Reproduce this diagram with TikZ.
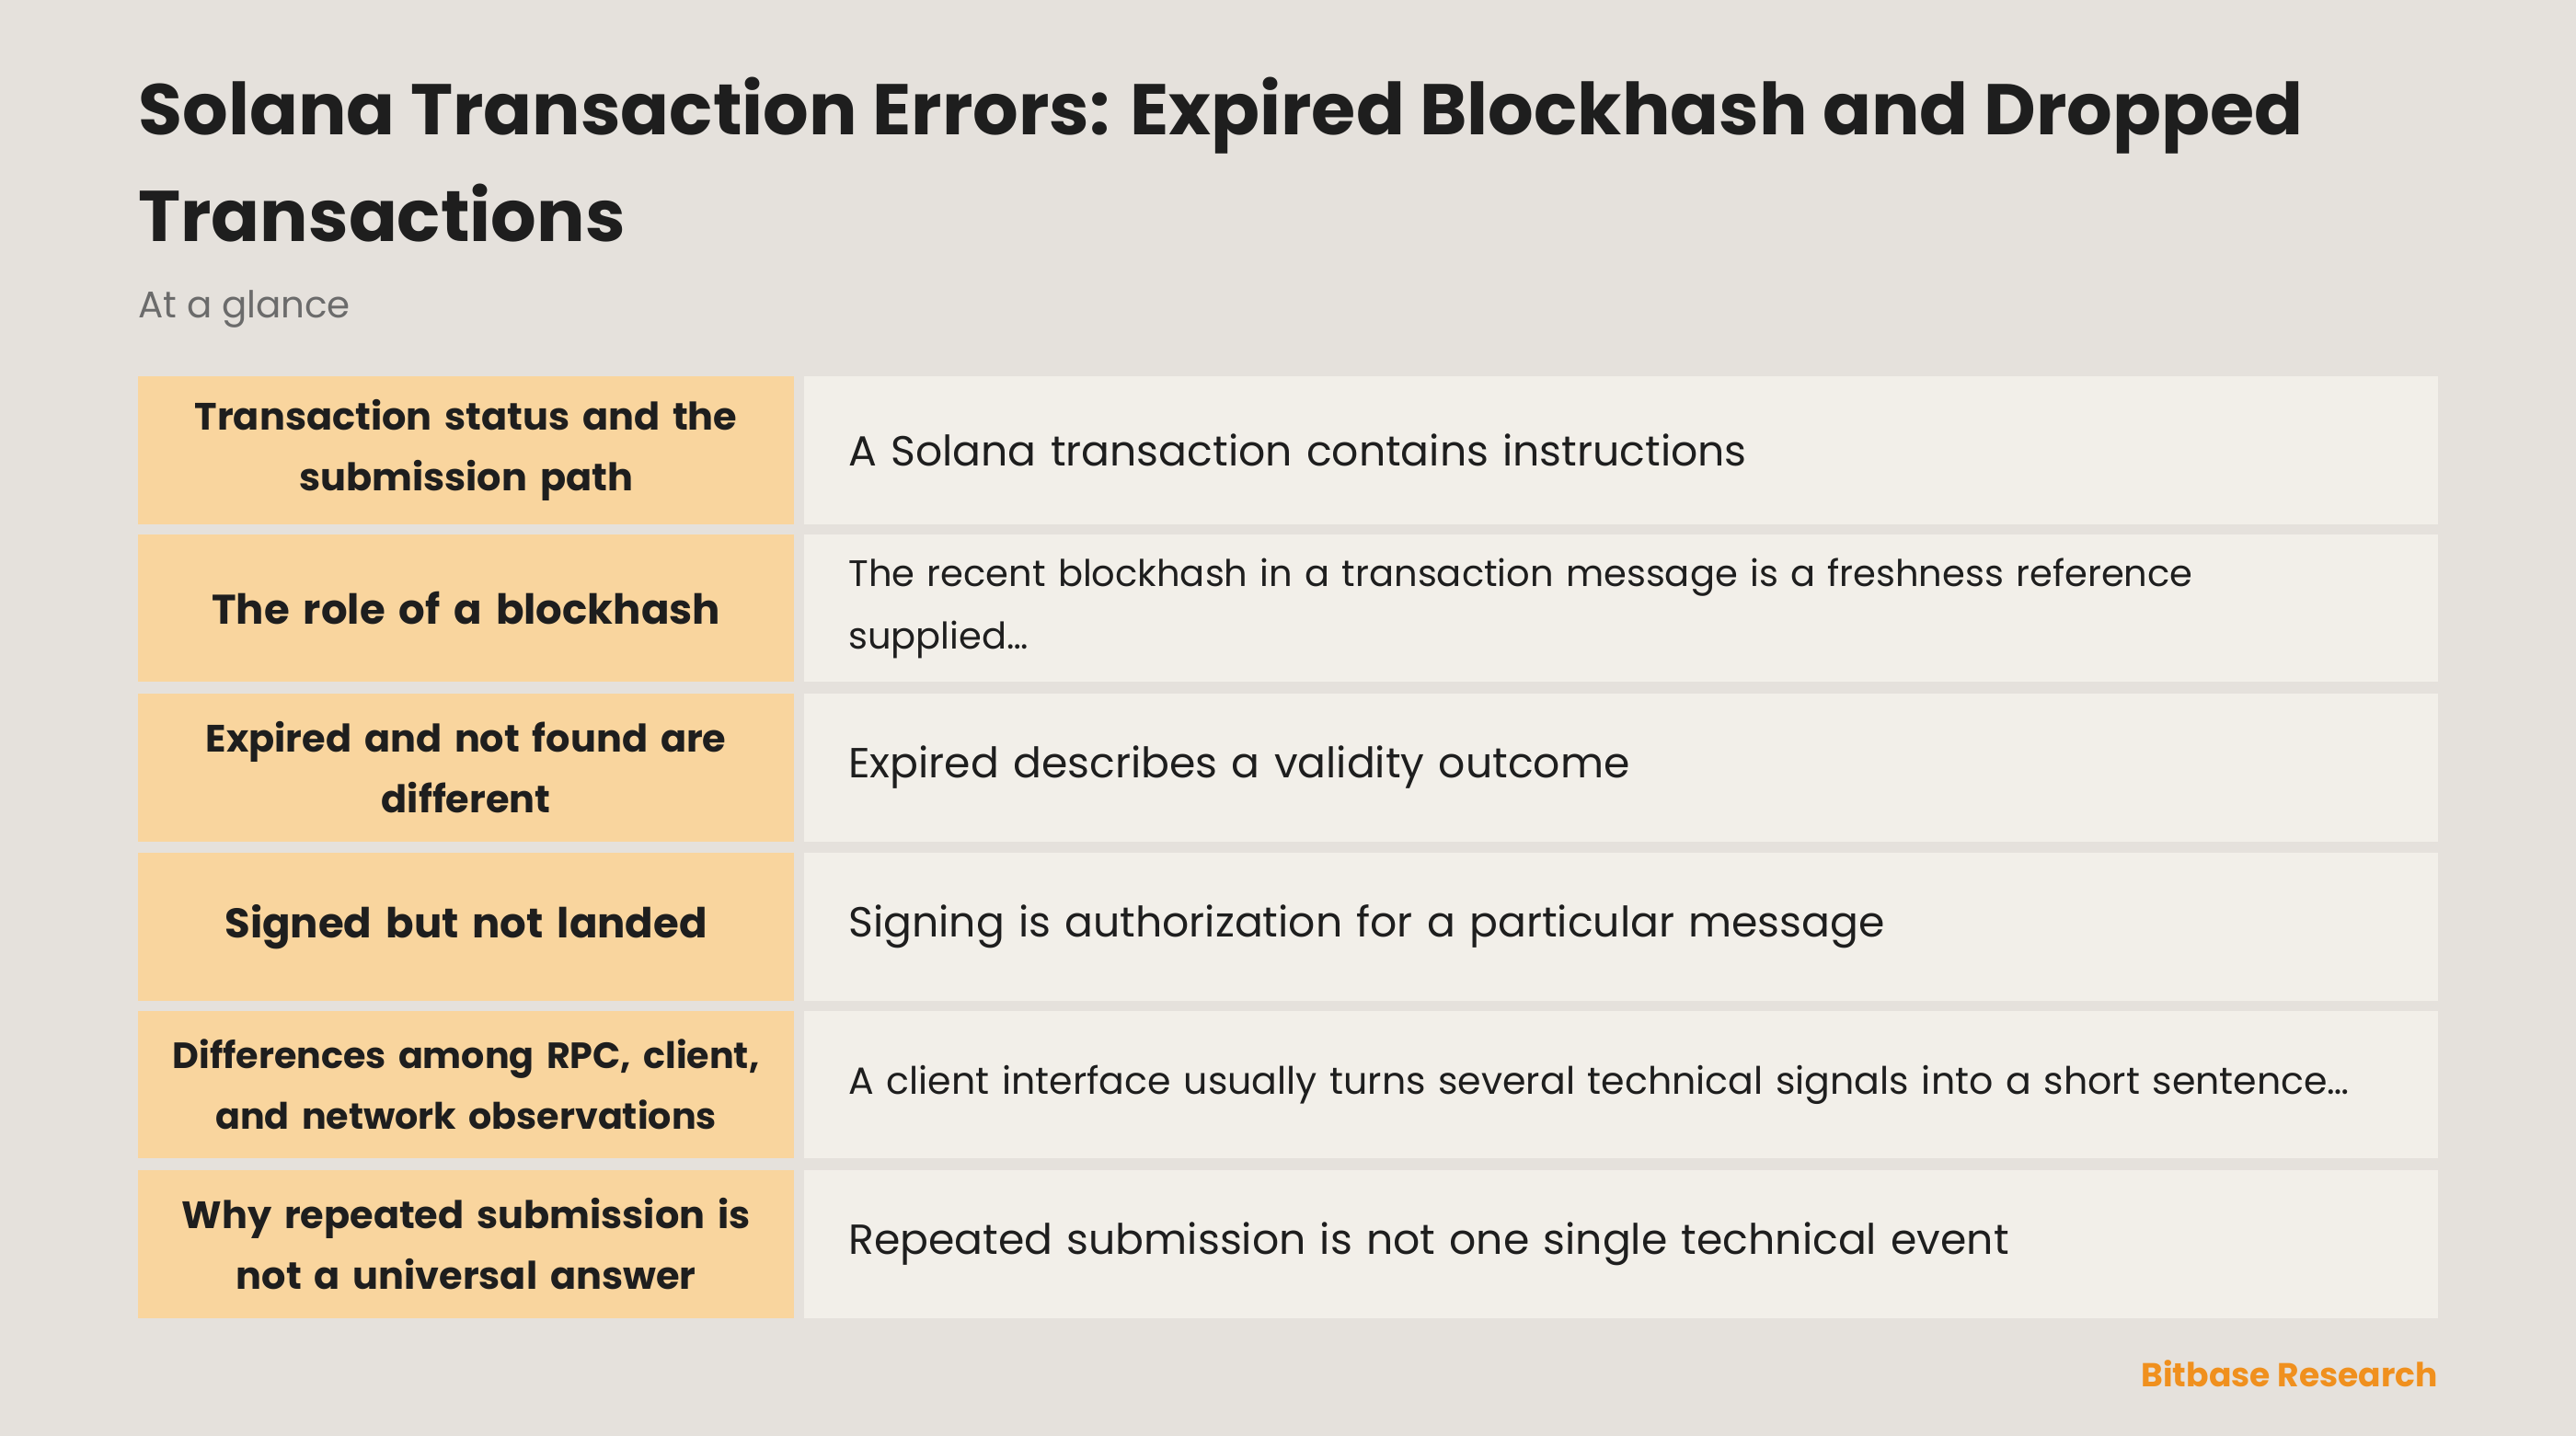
\documentclass[tikz,border=0pt]{standalone}
\usepackage{fontspec}
\setmainfont{Poppins}
\definecolor{pagebg}{HTML}{E5E1DC}
\definecolor{keyfill}{HTML}{F9D59E}
\definecolor{valfill}{HTML}{F2EFE9}
\definecolor{inkdark}{HTML}{1E1E1E}
\definecolor{inkgray}{HTML}{6B6B6B}
\definecolor{brand}{HTML}{F0901E}
\tikzset{
    keycell/.style = {fill=keyfill, draw=none, minimum width=399pt, minimum height=90pt, anchor=north west, inner sep=0pt},
    valcell/.style = {fill=valfill, draw=none, minimum width=995pt, minimum height=90pt, anchor=north west, inner sep=0pt},
    keytext/.style = {text=inkdark, align=center, text width=390pt},
    valtext/.style = {text=inkdark, anchor=west, align=left, text width=960pt}
}
\begin{document}
\begin{tikzpicture}[x=1pt, y=-1pt]
    \fill[pagebg] (0,0) rectangle (1568,874);
    \useasboundingbox (0,0) rectangle (1568,874);
    % heading
    \node[anchor=north west, inner sep=0pt, text=inkdark, align=left,
        font=\fontsize{43.7}{65}\selectfont\bfseries] (title) at (84,47)
        {Solana Transaction Errors: Expired Blockhash and Dropped\\Transactions};
    \node[anchor=west, inner sep=0pt, text=inkgray, font=\fontsize{22.6}{25}\selectfont] (sub) at (84,188) {At a glance};
    % rows
    \foreach \i/\y/\key/\ks/\val/\sz in {
        1/229/{Transaction status and the\\submission path}/23.2/{A Solana transaction contains instructions}/25.6,
        2/325/{The role of a blockhash}/25.2/{The recent blockhash in a transaction message is a freshness reference\\supplied\dots}/22.4,
        3/422/{Expired and not found are\\different}/23.2/{Expired describes a validity outcome}/25.6,
        4/519/{Signed but not landed}/25.2/{Signing is authorization for a particular message}/25.6,
        5/615/{Differences among RPC, client,\\and network observations}/22.2/{A client interface usually turns several technical signals into a short sentence\dots}/23,
        6/712/{Why repeated submission is\\not a universal answer}/23.2/{Repeated submission is not one single technical event}/25.6}{
        \node[keycell] (key\i) at (84,\y) {};
        \node[valcell] (val\i) at (489,\y) {};
        \node[keytext, font=\fontsize{\ks}{37}\selectfont\bfseries] at (key\i.center) {\key};
        \node[valtext, font=\fontsize{\sz}{38}\selectfont] at ([xshift=24pt]val\i.west) {\val};
    }
    \node[anchor=east, inner sep=0pt, text=brand, font=\fontsize{20.2}{22}\selectfont\bfseries] (brand) at (1484,836) {Bitbase Research};
\end{tikzpicture}
\end{document}
